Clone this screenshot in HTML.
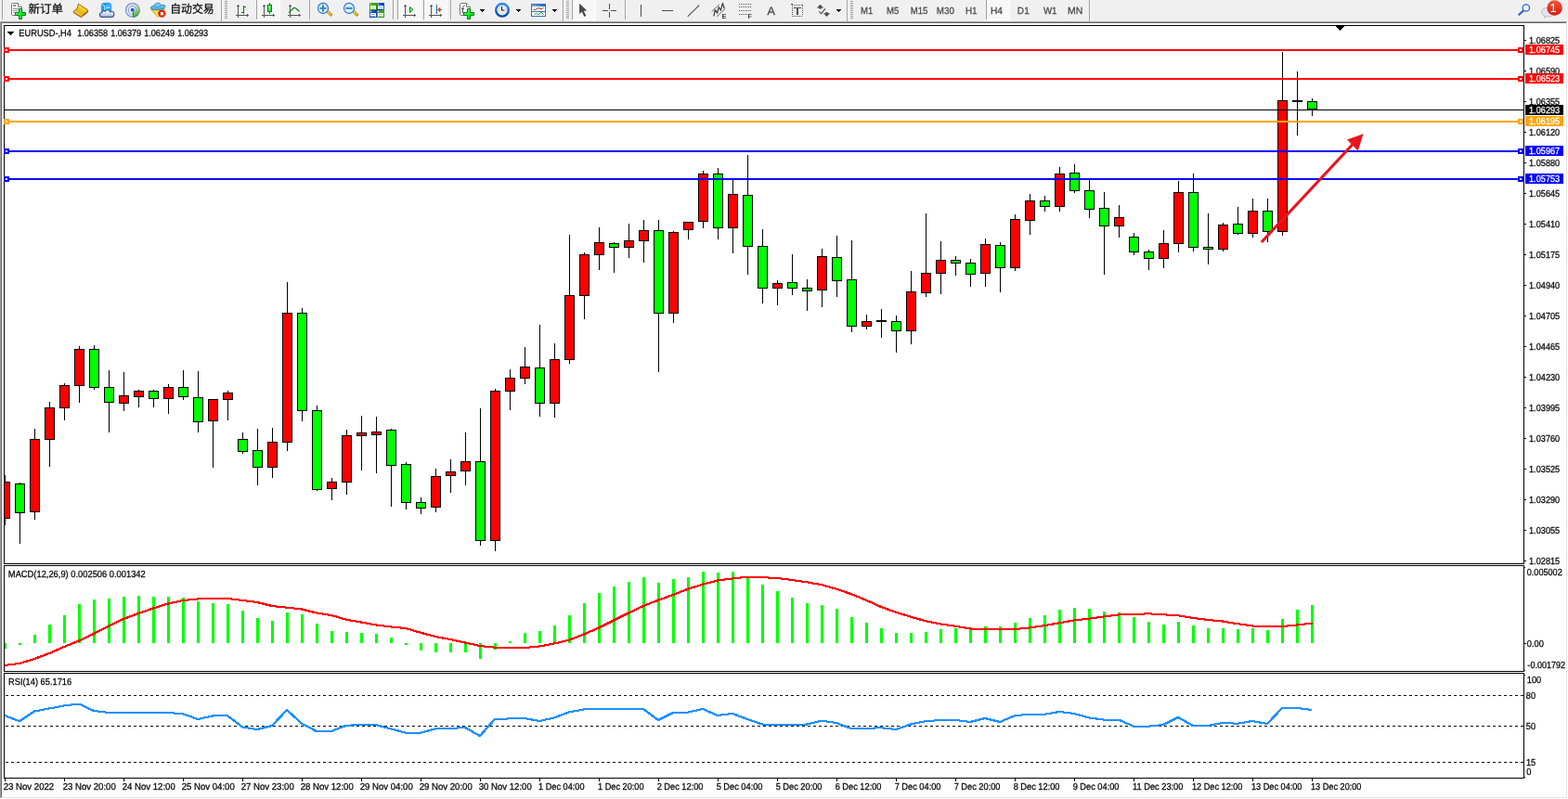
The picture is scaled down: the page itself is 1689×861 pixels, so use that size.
<!DOCTYPE html>
<html lang="zh"><head><meta charset="utf-8"><title>EURUSD-,H4</title>
<style>
html,body{margin:0;padding:0;background:#fff;width:1689px;height:861px;overflow:hidden}
svg{display:block;text-rendering:geometricPrecision;font-family:"Liberation Sans", "Noto Sans CJK SC", sans-serif}
text{white-space:pre}
</style></head><body>
<svg width="1689" height="861" viewBox="0 0 1689 861">
<rect x="0" y="0" width="1689" height="23" fill="#f0f0f0"/>
<rect x="0" y="23" width="1689" height="838" fill="#fff"/>
<rect x="0" y="23" width="1688" height="1" fill="#a0a0a0"/>
<rect x="0" y="23" width="1" height="837" fill="#a0a0a0"/>
<rect x="1" y="24" width="1686" height="1" fill="#696969"/>
<rect x="1" y="24" width="1" height="835" fill="#696969"/>
<rect x="1" y="859" width="1687" height="1" fill="#e3e3e3"/>
<rect x="1687" y="24" width="1" height="836" fill="#e3e3e3"/>
<defs><clipPath id="plot"><rect x="5" y="28" width="1636" height="810"/></clipPath></defs>
<g shape-rendering="crispEdges">
<g id="candles">
<rect x="5" y="512" width="1" height="54" fill="#000"/>
<rect x="5" y="519" width="6" height="40" fill="#000"/>
<rect x="5" y="520" width="5" height="38" fill="#ff0000"/>
<rect x="21" y="520" width="1" height="66" fill="#000"/>
<rect x="16" y="521" width="11" height="32" fill="#000"/>
<rect x="17" y="522" width="9" height="30" fill="#00ff00"/>
<rect x="37" y="462" width="1" height="98" fill="#000"/>
<rect x="32" y="473" width="11" height="79" fill="#000"/>
<rect x="33" y="474" width="9" height="77" fill="#ff0000"/>
<rect x="53" y="433" width="1" height="70" fill="#000"/>
<rect x="48" y="439" width="11" height="35" fill="#000"/>
<rect x="49" y="440" width="9" height="33" fill="#ff0000"/>
<rect x="69" y="413" width="1" height="40" fill="#000"/>
<rect x="64" y="415" width="11" height="25" fill="#000"/>
<rect x="65" y="416" width="9" height="23" fill="#ff0000"/>
<rect x="85" y="373" width="1" height="61" fill="#000"/>
<rect x="80" y="376" width="11" height="40" fill="#000"/>
<rect x="81" y="377" width="9" height="38" fill="#ff0000"/>
<rect x="101" y="372" width="1" height="48" fill="#000"/>
<rect x="96" y="376" width="11" height="42" fill="#000"/>
<rect x="97" y="377" width="9" height="40" fill="#00ff00"/>
<rect x="117" y="399" width="1" height="67" fill="#000"/>
<rect x="112" y="417" width="11" height="17" fill="#000"/>
<rect x="113" y="418" width="9" height="15" fill="#00ff00"/>
<rect x="133" y="401" width="1" height="42" fill="#000"/>
<rect x="128" y="426" width="11" height="9" fill="#000"/>
<rect x="129" y="427" width="9" height="7" fill="#ff0000"/>
<rect x="149" y="420" width="1" height="19" fill="#000"/>
<rect x="144" y="421" width="11" height="7" fill="#000"/>
<rect x="145" y="422" width="9" height="5" fill="#ff0000"/>
<rect x="165" y="420" width="1" height="19" fill="#000"/>
<rect x="160" y="421" width="11" height="9" fill="#000"/>
<rect x="161" y="422" width="9" height="7" fill="#00ff00"/>
<rect x="181" y="414" width="1" height="32" fill="#000"/>
<rect x="176" y="417" width="11" height="13" fill="#000"/>
<rect x="177" y="418" width="9" height="11" fill="#ff0000"/>
<rect x="197" y="399" width="1" height="32" fill="#000"/>
<rect x="192" y="417" width="11" height="11" fill="#000"/>
<rect x="193" y="418" width="9" height="9" fill="#00ff00"/>
<rect x="213" y="400" width="1" height="66" fill="#000"/>
<rect x="208" y="428" width="11" height="27" fill="#000"/>
<rect x="209" y="429" width="9" height="25" fill="#00ff00"/>
<rect x="229" y="430" width="1" height="74" fill="#000"/>
<rect x="224" y="430" width="11" height="24" fill="#000"/>
<rect x="225" y="431" width="9" height="22" fill="#ff0000"/>
<rect x="245" y="421" width="1" height="32" fill="#000"/>
<rect x="240" y="423" width="11" height="8" fill="#000"/>
<rect x="241" y="424" width="9" height="6" fill="#ff0000"/>
<rect x="261" y="466" width="1" height="23" fill="#000"/>
<rect x="256" y="473" width="11" height="14" fill="#000"/>
<rect x="257" y="474" width="9" height="12" fill="#00ff00"/>
<rect x="277" y="462" width="1" height="61" fill="#000"/>
<rect x="272" y="485" width="11" height="19" fill="#000"/>
<rect x="273" y="486" width="9" height="17" fill="#00ff00"/>
<rect x="293" y="461" width="1" height="54" fill="#000"/>
<rect x="288" y="476" width="11" height="28" fill="#000"/>
<rect x="289" y="477" width="9" height="26" fill="#ff0000"/>
<rect x="309" y="304" width="1" height="182" fill="#000"/>
<rect x="304" y="337" width="11" height="140" fill="#000"/>
<rect x="305" y="338" width="9" height="138" fill="#ff0000"/>
<rect x="325" y="332" width="1" height="122" fill="#000"/>
<rect x="320" y="337" width="11" height="106" fill="#000"/>
<rect x="321" y="338" width="9" height="104" fill="#00ff00"/>
<rect x="341" y="437" width="1" height="92" fill="#000"/>
<rect x="336" y="442" width="11" height="86" fill="#000"/>
<rect x="337" y="443" width="9" height="84" fill="#00ff00"/>
<rect x="357" y="515" width="1" height="24" fill="#000"/>
<rect x="352" y="519" width="11" height="8" fill="#000"/>
<rect x="353" y="520" width="9" height="6" fill="#ff0000"/>
<rect x="373" y="463" width="1" height="70" fill="#000"/>
<rect x="368" y="469" width="11" height="51" fill="#000"/>
<rect x="369" y="470" width="9" height="49" fill="#ff0000"/>
<rect x="389" y="448" width="1" height="59" fill="#000"/>
<rect x="384" y="466" width="11" height="4" fill="#000"/>
<rect x="385" y="467" width="9" height="2" fill="#ff0000"/>
<rect x="405" y="449" width="1" height="61" fill="#000"/>
<rect x="400" y="465" width="11" height="4" fill="#000"/>
<rect x="401" y="466" width="9" height="2" fill="#ff0000"/>
<rect x="421" y="462" width="1" height="84" fill="#000"/>
<rect x="416" y="463" width="11" height="39" fill="#000"/>
<rect x="417" y="464" width="9" height="37" fill="#00ff00"/>
<rect x="437" y="498" width="1" height="51" fill="#000"/>
<rect x="432" y="500" width="11" height="42" fill="#000"/>
<rect x="433" y="501" width="9" height="40" fill="#00ff00"/>
<rect x="453" y="536" width="1" height="18" fill="#000"/>
<rect x="448" y="541" width="11" height="7" fill="#000"/>
<rect x="449" y="542" width="9" height="5" fill="#00ff00"/>
<rect x="469" y="505" width="1" height="47" fill="#000"/>
<rect x="464" y="513" width="11" height="34" fill="#000"/>
<rect x="465" y="514" width="9" height="32" fill="#ff0000"/>
<rect x="485" y="495" width="1" height="36" fill="#000"/>
<rect x="480" y="508" width="11" height="5" fill="#000"/>
<rect x="481" y="509" width="9" height="3" fill="#ff0000"/>
<rect x="501" y="466" width="1" height="57" fill="#000"/>
<rect x="496" y="497" width="11" height="11" fill="#000"/>
<rect x="497" y="498" width="9" height="9" fill="#ff0000"/>
<rect x="517" y="440" width="1" height="148" fill="#000"/>
<rect x="512" y="497" width="11" height="86" fill="#000"/>
<rect x="513" y="498" width="9" height="84" fill="#00ff00"/>
<rect x="533" y="419" width="1" height="175" fill="#000"/>
<rect x="528" y="421" width="11" height="162" fill="#000"/>
<rect x="529" y="422" width="9" height="160" fill="#ff0000"/>
<rect x="549" y="398" width="1" height="44" fill="#000"/>
<rect x="544" y="407" width="11" height="15" fill="#000"/>
<rect x="545" y="408" width="9" height="13" fill="#ff0000"/>
<rect x="565" y="374" width="1" height="40" fill="#000"/>
<rect x="560" y="395" width="11" height="13" fill="#000"/>
<rect x="561" y="396" width="9" height="11" fill="#ff0000"/>
<rect x="581" y="350" width="1" height="99" fill="#000"/>
<rect x="576" y="396" width="11" height="39" fill="#000"/>
<rect x="577" y="397" width="9" height="37" fill="#00ff00"/>
<rect x="597" y="370" width="1" height="80" fill="#000"/>
<rect x="592" y="387" width="11" height="48" fill="#000"/>
<rect x="593" y="388" width="9" height="46" fill="#ff0000"/>
<rect x="613" y="253" width="1" height="139" fill="#000"/>
<rect x="608" y="318" width="11" height="70" fill="#000"/>
<rect x="609" y="319" width="9" height="68" fill="#ff0000"/>
<rect x="629" y="272" width="1" height="72" fill="#000"/>
<rect x="624" y="274" width="11" height="45" fill="#000"/>
<rect x="625" y="275" width="9" height="43" fill="#ff0000"/>
<rect x="645" y="245" width="1" height="46" fill="#000"/>
<rect x="640" y="261" width="11" height="14" fill="#000"/>
<rect x="641" y="262" width="9" height="12" fill="#ff0000"/>
<rect x="661" y="261" width="1" height="33" fill="#000"/>
<rect x="656" y="262" width="11" height="5" fill="#000"/>
<rect x="657" y="263" width="9" height="3" fill="#00ff00"/>
<rect x="677" y="241" width="1" height="37" fill="#000"/>
<rect x="672" y="259" width="11" height="8" fill="#000"/>
<rect x="673" y="260" width="9" height="6" fill="#ff0000"/>
<rect x="693" y="237" width="1" height="46" fill="#000"/>
<rect x="688" y="248" width="11" height="12" fill="#000"/>
<rect x="689" y="249" width="9" height="10" fill="#ff0000"/>
<rect x="709" y="237" width="1" height="164" fill="#000"/>
<rect x="704" y="248" width="11" height="90" fill="#000"/>
<rect x="705" y="249" width="9" height="88" fill="#00ff00"/>
<rect x="725" y="249" width="1" height="99" fill="#000"/>
<rect x="720" y="250" width="11" height="88" fill="#000"/>
<rect x="721" y="251" width="9" height="86" fill="#ff0000"/>
<rect x="741" y="239" width="1" height="19" fill="#000"/>
<rect x="736" y="239" width="11" height="9" fill="#000"/>
<rect x="737" y="240" width="9" height="7" fill="#ff0000"/>
<rect x="757" y="184" width="1" height="62" fill="#000"/>
<rect x="752" y="187" width="11" height="52" fill="#000"/>
<rect x="753" y="188" width="9" height="50" fill="#ff0000"/>
<rect x="773" y="181" width="1" height="77" fill="#000"/>
<rect x="768" y="187" width="11" height="59" fill="#000"/>
<rect x="769" y="188" width="9" height="57" fill="#00ff00"/>
<rect x="789" y="194" width="1" height="79" fill="#000"/>
<rect x="784" y="209" width="11" height="37" fill="#000"/>
<rect x="785" y="210" width="9" height="35" fill="#ff0000"/>
<rect x="805" y="167" width="1" height="129" fill="#000"/>
<rect x="800" y="210" width="11" height="56" fill="#000"/>
<rect x="801" y="211" width="9" height="54" fill="#00ff00"/>
<rect x="821" y="247" width="1" height="80" fill="#000"/>
<rect x="816" y="265" width="11" height="46" fill="#000"/>
<rect x="817" y="266" width="9" height="44" fill="#00ff00"/>
<rect x="837" y="302" width="1" height="27" fill="#000"/>
<rect x="832" y="305" width="11" height="6" fill="#000"/>
<rect x="833" y="306" width="9" height="4" fill="#ff0000"/>
<rect x="853" y="274" width="1" height="44" fill="#000"/>
<rect x="848" y="304" width="11" height="7" fill="#000"/>
<rect x="849" y="305" width="9" height="5" fill="#00ff00"/>
<rect x="869" y="301" width="1" height="34" fill="#000"/>
<rect x="864" y="310" width="11" height="4" fill="#000"/>
<rect x="865" y="311" width="9" height="2" fill="#00ff00"/>
<rect x="885" y="268" width="1" height="63" fill="#000"/>
<rect x="880" y="276" width="11" height="37" fill="#000"/>
<rect x="881" y="277" width="9" height="35" fill="#ff0000"/>
<rect x="901" y="254" width="1" height="66" fill="#000"/>
<rect x="896" y="277" width="11" height="26" fill="#000"/>
<rect x="897" y="278" width="9" height="24" fill="#00ff00"/>
<rect x="917" y="259" width="1" height="99" fill="#000"/>
<rect x="912" y="301" width="11" height="51" fill="#000"/>
<rect x="913" y="302" width="9" height="49" fill="#00ff00"/>
<rect x="933" y="339" width="1" height="16" fill="#000"/>
<rect x="928" y="346" width="11" height="6" fill="#000"/>
<rect x="929" y="347" width="9" height="4" fill="#ff0000"/>
<rect x="949" y="333" width="1" height="31" fill="#000"/>
<rect x="944" y="345" width="11" height="2" fill="#000"/>
<rect x="965" y="340" width="1" height="40" fill="#000"/>
<rect x="960" y="346" width="11" height="11" fill="#000"/>
<rect x="961" y="347" width="9" height="9" fill="#00ff00"/>
<rect x="981" y="292" width="1" height="79" fill="#000"/>
<rect x="976" y="314" width="11" height="43" fill="#000"/>
<rect x="977" y="315" width="9" height="41" fill="#ff0000"/>
<rect x="997" y="230" width="1" height="90" fill="#000"/>
<rect x="992" y="294" width="11" height="22" fill="#000"/>
<rect x="993" y="295" width="9" height="20" fill="#ff0000"/>
<rect x="1013" y="260" width="1" height="57" fill="#000"/>
<rect x="1008" y="280" width="11" height="15" fill="#000"/>
<rect x="1009" y="281" width="9" height="13" fill="#ff0000"/>
<rect x="1029" y="276" width="1" height="21" fill="#000"/>
<rect x="1024" y="280" width="11" height="4" fill="#000"/>
<rect x="1025" y="281" width="9" height="2" fill="#00ff00"/>
<rect x="1045" y="279" width="1" height="30" fill="#000"/>
<rect x="1040" y="283" width="11" height="13" fill="#000"/>
<rect x="1041" y="284" width="9" height="11" fill="#00ff00"/>
<rect x="1061" y="257" width="1" height="52" fill="#000"/>
<rect x="1056" y="263" width="11" height="32" fill="#000"/>
<rect x="1057" y="264" width="9" height="30" fill="#ff0000"/>
<rect x="1077" y="261" width="1" height="54" fill="#000"/>
<rect x="1072" y="264" width="11" height="25" fill="#000"/>
<rect x="1073" y="265" width="9" height="23" fill="#00ff00"/>
<rect x="1093" y="231" width="1" height="61" fill="#000"/>
<rect x="1088" y="236" width="11" height="53" fill="#000"/>
<rect x="1089" y="237" width="9" height="51" fill="#ff0000"/>
<rect x="1109" y="209" width="1" height="44" fill="#000"/>
<rect x="1104" y="216" width="11" height="22" fill="#000"/>
<rect x="1105" y="217" width="9" height="20" fill="#ff0000"/>
<rect x="1125" y="211" width="1" height="17" fill="#000"/>
<rect x="1120" y="216" width="11" height="7" fill="#000"/>
<rect x="1121" y="217" width="9" height="5" fill="#00ff00"/>
<rect x="1141" y="180" width="1" height="48" fill="#000"/>
<rect x="1136" y="187" width="11" height="36" fill="#000"/>
<rect x="1137" y="188" width="9" height="34" fill="#ff0000"/>
<rect x="1157" y="177" width="1" height="31" fill="#000"/>
<rect x="1152" y="186" width="11" height="20" fill="#000"/>
<rect x="1153" y="187" width="9" height="18" fill="#00ff00"/>
<rect x="1173" y="194" width="1" height="41" fill="#000"/>
<rect x="1168" y="205" width="11" height="21" fill="#000"/>
<rect x="1169" y="206" width="9" height="19" fill="#00ff00"/>
<rect x="1189" y="207" width="1" height="89" fill="#000"/>
<rect x="1184" y="224" width="11" height="20" fill="#000"/>
<rect x="1185" y="225" width="9" height="18" fill="#00ff00"/>
<rect x="1205" y="221" width="1" height="35" fill="#000"/>
<rect x="1200" y="234" width="11" height="10" fill="#000"/>
<rect x="1201" y="235" width="9" height="8" fill="#ff0000"/>
<rect x="1221" y="251" width="1" height="24" fill="#000"/>
<rect x="1216" y="255" width="11" height="17" fill="#000"/>
<rect x="1217" y="256" width="9" height="15" fill="#00ff00"/>
<rect x="1237" y="269" width="1" height="22" fill="#000"/>
<rect x="1232" y="271" width="11" height="8" fill="#000"/>
<rect x="1233" y="272" width="9" height="6" fill="#00ff00"/>
<rect x="1253" y="248" width="1" height="41" fill="#000"/>
<rect x="1248" y="262" width="11" height="17" fill="#000"/>
<rect x="1249" y="263" width="9" height="15" fill="#ff0000"/>
<rect x="1269" y="195" width="1" height="77" fill="#000"/>
<rect x="1264" y="207" width="11" height="56" fill="#000"/>
<rect x="1265" y="208" width="9" height="54" fill="#ff0000"/>
<rect x="1285" y="187" width="1" height="84" fill="#000"/>
<rect x="1280" y="207" width="11" height="60" fill="#000"/>
<rect x="1281" y="208" width="9" height="58" fill="#00ff00"/>
<rect x="1301" y="230" width="1" height="55" fill="#000"/>
<rect x="1296" y="266" width="11" height="3" fill="#000"/>
<rect x="1297" y="267" width="9" height="1" fill="#00ff00"/>
<rect x="1317" y="240" width="1" height="31" fill="#000"/>
<rect x="1312" y="242" width="11" height="27" fill="#000"/>
<rect x="1313" y="243" width="9" height="25" fill="#ff0000"/>
<rect x="1333" y="223" width="1" height="30" fill="#000"/>
<rect x="1328" y="241" width="11" height="11" fill="#000"/>
<rect x="1329" y="242" width="9" height="9" fill="#00ff00"/>
<rect x="1349" y="214" width="1" height="42" fill="#000"/>
<rect x="1344" y="227" width="11" height="25" fill="#000"/>
<rect x="1345" y="228" width="9" height="23" fill="#ff0000"/>
<rect x="1365" y="214" width="1" height="47" fill="#000"/>
<rect x="1360" y="227" width="11" height="23" fill="#000"/>
<rect x="1361" y="228" width="9" height="21" fill="#00ff00"/>
<rect x="1381" y="56" width="1" height="198" fill="#000"/>
<rect x="1376" y="108" width="11" height="142" fill="#000"/>
<rect x="1377" y="109" width="9" height="140" fill="#ff0000"/>
<rect x="1397" y="77" width="1" height="69" fill="#000"/>
<rect x="1392" y="108" width="11" height="2" fill="#000"/>
<rect x="1413" y="106" width="1" height="19" fill="#000"/>
<rect x="1408" y="109" width="11" height="9" fill="#000"/>
<rect x="1409" y="110" width="9" height="7" fill="#00ff00"/>
</g>
<rect x="5" y="118" width="1636" height="1" fill="#000"/>
<rect x="4" y="27" width="1638" height="1" fill="#000"/>
<rect x="4" y="27" width="1" height="812" fill="#000"/>
<rect x="1641" y="27" width="1" height="812" fill="#000"/>
<rect x="4" y="607" width="1638" height="1" fill="#000"/>
<rect x="4" y="609" width="1638" height="1" fill="#000"/>
<rect x="4" y="723" width="1638" height="1" fill="#000"/>
<rect x="4" y="725" width="1638" height="1" fill="#000"/>
<rect x="4" y="838" width="1638" height="1" fill="#000"/>
<rect x="4" y="608" width="1" height="1" fill="#fff"/>
<rect x="4" y="724" width="1" height="1" fill="#fff"/>
<rect x="1641" y="608" width="1" height="1" fill="#fff"/>
<rect x="1641" y="724" width="1" height="1" fill="#fff"/>
<rect x="5" y="53" width="1636" height="2" fill="#ff0000"/>
<rect x="4" y="51" width="6" height="6" fill="#ff0000"/>
<rect x="6" y="53" width="2" height="2" fill="#fff"/>
<rect x="1635" y="51" width="6" height="6" fill="#ff0000"/>
<rect x="1637" y="53" width="2" height="2" fill="#fff"/>
<rect x="5" y="84" width="1636" height="2" fill="#ff0000"/>
<rect x="4" y="82" width="6" height="6" fill="#ff0000"/>
<rect x="6" y="84" width="2" height="2" fill="#fff"/>
<rect x="1635" y="82" width="6" height="6" fill="#ff0000"/>
<rect x="1637" y="84" width="2" height="2" fill="#fff"/>
<rect x="5" y="130" width="1636" height="2" fill="#ffa500"/>
<rect x="4" y="128" width="6" height="6" fill="#ffa500"/>
<rect x="6" y="130" width="2" height="2" fill="#fff"/>
<rect x="1635" y="128" width="6" height="6" fill="#ffa500"/>
<rect x="1637" y="130" width="2" height="2" fill="#fff"/>
<rect x="5" y="162" width="1636" height="2" fill="#0000ff"/>
<rect x="4" y="160" width="6" height="6" fill="#0000ff"/>
<rect x="6" y="162" width="2" height="2" fill="#fff"/>
<rect x="1635" y="160" width="6" height="6" fill="#0000ff"/>
<rect x="1637" y="162" width="2" height="2" fill="#fff"/>
<rect x="5" y="192" width="1636" height="2" fill="#0000ff"/>
<rect x="4" y="190" width="6" height="6" fill="#0000ff"/>
<rect x="6" y="192" width="2" height="2" fill="#fff"/>
<rect x="1635" y="190" width="6" height="6" fill="#0000ff"/>
<rect x="1637" y="192" width="2" height="2" fill="#fff"/>
<rect x="1438" y="27" width="11" height="1" fill="#000"/>
<rect x="1439" y="28" width="9" height="1" fill="#000"/>
<rect x="1440" y="29" width="7" height="1" fill="#000"/>
<rect x="1441" y="30" width="5" height="1" fill="#000"/>
<rect x="1442" y="31" width="3" height="1" fill="#000"/>
<rect x="1443" y="32" width="1" height="1" fill="#000"/>
<rect x="8" y="34" width="7" height="1" fill="#000"/>
<rect x="9" y="35" width="5" height="1" fill="#000"/>
<rect x="10" y="36" width="3" height="1" fill="#000"/>
<rect x="11" y="37" width="1" height="1" fill="#000"/>
<rect x="1642" y="43" width="2" height="1" fill="#000"/>
<rect x="1642" y="76" width="2" height="1" fill="#000"/>
<rect x="1642" y="109" width="2" height="1" fill="#000"/>
<rect x="1642" y="142" width="2" height="1" fill="#000"/>
<rect x="1642" y="175" width="2" height="1" fill="#000"/>
<rect x="1642" y="208" width="2" height="1" fill="#000"/>
<rect x="1642" y="241" width="2" height="1" fill="#000"/>
<rect x="1642" y="274" width="2" height="1" fill="#000"/>
<rect x="1642" y="307" width="2" height="1" fill="#000"/>
<rect x="1642" y="340" width="2" height="1" fill="#000"/>
<rect x="1642" y="373" width="2" height="1" fill="#000"/>
<rect x="1642" y="406" width="2" height="1" fill="#000"/>
<rect x="1642" y="439" width="2" height="1" fill="#000"/>
<rect x="1642" y="472" width="2" height="1" fill="#000"/>
<rect x="1642" y="505" width="2" height="1" fill="#000"/>
<rect x="1642" y="538" width="2" height="1" fill="#000"/>
<rect x="1642" y="571" width="2" height="1" fill="#000"/>
<rect x="1642" y="604" width="2" height="1" fill="#000"/>
<rect x="1642" y="693" width="2" height="1" fill="#000"/>
<rect x="1642" y="611" width="1" height="1" fill="#000"/>
<rect x="1642" y="722" width="1" height="1" fill="#000"/>
<rect x="1642" y="727" width="1" height="1" fill="#000"/>
<rect x="1642" y="837" width="1" height="1" fill="#000"/>
<rect x="5" y="839" width="1" height="3" fill="#000"/>
<rect x="69" y="839" width="1" height="3" fill="#000"/>
<rect x="133" y="839" width="1" height="3" fill="#000"/>
<rect x="197" y="839" width="1" height="3" fill="#000"/>
<rect x="261" y="839" width="1" height="3" fill="#000"/>
<rect x="325" y="839" width="1" height="3" fill="#000"/>
<rect x="389" y="839" width="1" height="3" fill="#000"/>
<rect x="453" y="839" width="1" height="3" fill="#000"/>
<rect x="517" y="839" width="1" height="3" fill="#000"/>
<rect x="581" y="839" width="1" height="3" fill="#000"/>
<rect x="645" y="839" width="1" height="3" fill="#000"/>
<rect x="709" y="839" width="1" height="3" fill="#000"/>
<rect x="773" y="839" width="1" height="3" fill="#000"/>
<rect x="837" y="839" width="1" height="3" fill="#000"/>
<rect x="901" y="839" width="1" height="3" fill="#000"/>
<rect x="965" y="839" width="1" height="3" fill="#000"/>
<rect x="1029" y="839" width="1" height="3" fill="#000"/>
<rect x="1093" y="839" width="1" height="3" fill="#000"/>
<rect x="1157" y="839" width="1" height="3" fill="#000"/>
<rect x="1221" y="839" width="1" height="3" fill="#000"/>
<rect x="1285" y="839" width="1" height="3" fill="#000"/>
<rect x="1349" y="839" width="1" height="3" fill="#000"/>
<rect x="1413" y="839" width="1" height="3" fill="#000"/>
<rect x="5" y="693" width="2" height="6" fill="#00ff00"/>
<rect x="20" y="693" width="3" height="2" fill="#00ff00"/>
<rect x="36" y="684" width="3" height="9" fill="#00ff00"/>
<rect x="52" y="673" width="3" height="20" fill="#00ff00"/>
<rect x="68" y="663" width="3" height="30" fill="#00ff00"/>
<rect x="84" y="651" width="3" height="42" fill="#00ff00"/>
<rect x="100" y="646" width="3" height="47" fill="#00ff00"/>
<rect x="116" y="645" width="3" height="48" fill="#00ff00"/>
<rect x="132" y="643" width="3" height="50" fill="#00ff00"/>
<rect x="148" y="642" width="3" height="51" fill="#00ff00"/>
<rect x="164" y="643" width="3" height="50" fill="#00ff00"/>
<rect x="180" y="643" width="3" height="50" fill="#00ff00"/>
<rect x="196" y="644" width="3" height="49" fill="#00ff00"/>
<rect x="212" y="648" width="3" height="45" fill="#00ff00"/>
<rect x="228" y="650" width="3" height="43" fill="#00ff00"/>
<rect x="244" y="651" width="3" height="42" fill="#00ff00"/>
<rect x="260" y="658" width="3" height="35" fill="#00ff00"/>
<rect x="276" y="666" width="3" height="27" fill="#00ff00"/>
<rect x="292" y="669" width="3" height="24" fill="#00ff00"/>
<rect x="308" y="660" width="3" height="33" fill="#00ff00"/>
<rect x="324" y="662" width="3" height="31" fill="#00ff00"/>
<rect x="340" y="672" width="3" height="21" fill="#00ff00"/>
<rect x="356" y="680" width="3" height="13" fill="#00ff00"/>
<rect x="372" y="681" width="3" height="12" fill="#00ff00"/>
<rect x="388" y="682" width="3" height="11" fill="#00ff00"/>
<rect x="404" y="683" width="3" height="10" fill="#00ff00"/>
<rect x="420" y="687" width="3" height="6" fill="#00ff00"/>
<rect x="436" y="693" width="3" height="2" fill="#00ff00"/>
<rect x="452" y="693" width="3" height="8" fill="#00ff00"/>
<rect x="468" y="693" width="3" height="10" fill="#00ff00"/>
<rect x="484" y="693" width="3" height="10" fill="#00ff00"/>
<rect x="500" y="693" width="3" height="10" fill="#00ff00"/>
<rect x="516" y="693" width="3" height="17" fill="#00ff00"/>
<rect x="532" y="693" width="3" height="7" fill="#00ff00"/>
<rect x="548" y="691" width="3" height="2" fill="#00ff00"/>
<rect x="564" y="682" width="3" height="11" fill="#00ff00"/>
<rect x="580" y="680" width="3" height="13" fill="#00ff00"/>
<rect x="596" y="674" width="3" height="19" fill="#00ff00"/>
<rect x="612" y="663" width="3" height="30" fill="#00ff00"/>
<rect x="628" y="650" width="3" height="43" fill="#00ff00"/>
<rect x="644" y="639" width="3" height="54" fill="#00ff00"/>
<rect x="660" y="632" width="3" height="61" fill="#00ff00"/>
<rect x="676" y="627" width="3" height="66" fill="#00ff00"/>
<rect x="692" y="622" width="3" height="71" fill="#00ff00"/>
<rect x="708" y="628" width="3" height="65" fill="#00ff00"/>
<rect x="724" y="624" width="3" height="69" fill="#00ff00"/>
<rect x="740" y="622" width="3" height="71" fill="#00ff00"/>
<rect x="756" y="616" width="3" height="77" fill="#00ff00"/>
<rect x="772" y="617" width="3" height="76" fill="#00ff00"/>
<rect x="788" y="616" width="3" height="77" fill="#00ff00"/>
<rect x="804" y="623" width="3" height="70" fill="#00ff00"/>
<rect x="820" y="630" width="3" height="63" fill="#00ff00"/>
<rect x="836" y="637" width="3" height="56" fill="#00ff00"/>
<rect x="852" y="644" width="3" height="49" fill="#00ff00"/>
<rect x="868" y="650" width="3" height="43" fill="#00ff00"/>
<rect x="884" y="652" width="3" height="41" fill="#00ff00"/>
<rect x="900" y="656" width="3" height="37" fill="#00ff00"/>
<rect x="916" y="665" width="3" height="28" fill="#00ff00"/>
<rect x="932" y="671" width="3" height="22" fill="#00ff00"/>
<rect x="948" y="677" width="3" height="16" fill="#00ff00"/>
<rect x="964" y="682" width="3" height="11" fill="#00ff00"/>
<rect x="980" y="682" width="3" height="11" fill="#00ff00"/>
<rect x="996" y="681" width="3" height="12" fill="#00ff00"/>
<rect x="1012" y="678" width="3" height="15" fill="#00ff00"/>
<rect x="1028" y="677" width="3" height="16" fill="#00ff00"/>
<rect x="1044" y="676" width="3" height="17" fill="#00ff00"/>
<rect x="1060" y="675" width="3" height="18" fill="#00ff00"/>
<rect x="1076" y="675" width="3" height="18" fill="#00ff00"/>
<rect x="1092" y="671" width="3" height="22" fill="#00ff00"/>
<rect x="1108" y="666" width="3" height="27" fill="#00ff00"/>
<rect x="1124" y="663" width="3" height="30" fill="#00ff00"/>
<rect x="1140" y="657" width="3" height="36" fill="#00ff00"/>
<rect x="1156" y="655" width="3" height="38" fill="#00ff00"/>
<rect x="1172" y="656" width="3" height="37" fill="#00ff00"/>
<rect x="1188" y="659" width="3" height="34" fill="#00ff00"/>
<rect x="1204" y="660" width="3" height="33" fill="#00ff00"/>
<rect x="1220" y="665" width="3" height="28" fill="#00ff00"/>
<rect x="1236" y="670" width="3" height="23" fill="#00ff00"/>
<rect x="1252" y="673" width="3" height="20" fill="#00ff00"/>
<rect x="1268" y="670" width="3" height="23" fill="#00ff00"/>
<rect x="1284" y="674" width="3" height="19" fill="#00ff00"/>
<rect x="1300" y="677" width="3" height="16" fill="#00ff00"/>
<rect x="1316" y="677" width="3" height="16" fill="#00ff00"/>
<rect x="1332" y="678" width="3" height="15" fill="#00ff00"/>
<rect x="1348" y="677" width="3" height="16" fill="#00ff00"/>
<rect x="1364" y="679" width="3" height="14" fill="#00ff00"/>
<rect x="1380" y="667" width="3" height="26" fill="#00ff00"/>
<rect x="1396" y="657" width="3" height="36" fill="#00ff00"/>
<rect x="1412" y="652" width="3" height="41" fill="#00ff00"/>
<line x1="6" y1="749.5" x2="1641" y2="749.5" stroke="#000" stroke-width="1" stroke-dasharray="3 3"/>
<line x1="6" y1="782.5" x2="1641" y2="782.5" stroke="#000" stroke-width="1" stroke-dasharray="3 3"/>
<line x1="6" y1="821.5" x2="1641" y2="821.5" stroke="#000" stroke-width="1" stroke-dasharray="3 3"/>
</g>
<g fill="none" stroke="#ff0000" stroke-width="1" shape-rendering="crispEdges" stroke-linejoin="bevel" clip-path="url(#plot)">
<polyline points="5.5,716.5 21.5,714.5 37.5,709.5 53.5,703.5 69.5,696.5 85.5,690 101.5,682.5 117.5,674.2 133.5,666.5 149.5,660.5 165.5,655 181.5,650 197.5,646.5 213.5,645 229.5,644.5 245.5,644.5 261.5,646.5 277.5,648.5 293.5,652.5 309.5,654.2 325.5,656 341.5,660 357.5,662.5 373.5,667.2 389.5,670 405.5,673 421.5,675 437.5,676.5 453.5,681.2 469.5,685.5 485.5,688.5 501.5,692 517.5,695.5 533.5,697.2 549.5,697.5 565.5,697.5 581.5,696 597.5,693 613.5,689.2 629.5,683 645.5,676 661.5,668 677.5,660 693.5,652.5 709.5,646.2 725.5,640.5 741.5,634.2 757.5,629.2 773.5,625 789.5,623 805.5,621.2 821.5,621.7 837.5,622.5 853.5,624.5 869.5,626.7 885.5,629.7 901.5,634.2 917.5,639.7 933.5,646.2 949.5,653.5 965.5,659.2 981.5,664.2 997.5,668.7 1013.5,672 1029.5,674.2 1045.5,677 1061.5,677.5 1077.5,677.5 1093.5,677.5 1109.5,676 1125.5,673.7 1141.5,670.7 1157.5,668 1173.5,666.2 1189.5,664 1205.5,662 1221.5,661.5 1237.5,660.8 1253.5,661.8 1269.5,662.8 1285.5,665.5 1301.5,667.5 1317.5,669 1333.5,671.7 1349.5,674 1365.5,674.5 1381.5,674.5 1397.5,673 1413.5,671.2"/>
<polyline points="5.5,717.5 21.5,715.5 37.5,710.5 53.5,704.5 69.5,697.5 85.5,691 101.5,683.5 117.5,675.2 133.5,667.5 149.5,661.5 165.5,656 181.5,651 197.5,647.5 213.5,646 229.5,645.5 245.5,645.5 261.5,647.5 277.5,649.5 293.5,653.5 309.5,655.2 325.5,657 341.5,661 357.5,663.5 373.5,668.2 389.5,671 405.5,674 421.5,676 437.5,677.5 453.5,682.2 469.5,686.5 485.5,689.5 501.5,693 517.5,696.5 533.5,698.2 549.5,698.5 565.5,698.5 581.5,697 597.5,694 613.5,690.2 629.5,684 645.5,677 661.5,669 677.5,661 693.5,653.5 709.5,647.2 725.5,641.5 741.5,635.2 757.5,630.2 773.5,626 789.5,624 805.5,622.2 821.5,622.7 837.5,623.5 853.5,625.5 869.5,627.7 885.5,630.7 901.5,635.2 917.5,640.7 933.5,647.2 949.5,654.5 965.5,660.2 981.5,665.2 997.5,669.7 1013.5,673 1029.5,675.2 1045.5,678 1061.5,678.5 1077.5,678.5 1093.5,678.5 1109.5,677 1125.5,674.7 1141.5,671.7 1157.5,669 1173.5,667.2 1189.5,665 1205.5,663 1221.5,662.5 1237.5,661.8 1253.5,662.8 1269.5,663.8 1285.5,666.5 1301.5,668.5 1317.5,670 1333.5,672.7 1349.5,675 1365.5,675.5 1381.5,675.5 1397.5,674 1413.5,672.2"/>
<polyline points="4.5,716.5 20.5,714.5 36.5,709.5 52.5,703.5 68.5,696.5 84.5,690 100.5,682.5 116.5,674.2 132.5,666.5 148.5,660.5 164.5,655 180.5,650 196.5,646.5 212.5,645 228.5,644.5 244.5,644.5 260.5,646.5 276.5,648.5 292.5,652.5 308.5,654.2 324.5,656 340.5,660 356.5,662.5 372.5,667.2 388.5,670 404.5,673 420.5,675 436.5,676.5 452.5,681.2 468.5,685.5 484.5,688.5 500.5,692 516.5,695.5 532.5,697.2 548.5,697.5 564.5,697.5 580.5,696 596.5,693 612.5,689.2 628.5,683 644.5,676 660.5,668 676.5,660 692.5,652.5 708.5,646.2 724.5,640.5 740.5,634.2 756.5,629.2 772.5,625 788.5,623 804.5,621.2 820.5,621.7 836.5,622.5 852.5,624.5 868.5,626.7 884.5,629.7 900.5,634.2 916.5,639.7 932.5,646.2 948.5,653.5 964.5,659.2 980.5,664.2 996.5,668.7 1012.5,672 1028.5,674.2 1044.5,677 1060.5,677.5 1076.5,677.5 1092.5,677.5 1108.5,676 1124.5,673.7 1140.5,670.7 1156.5,668 1172.5,666.2 1188.5,664 1204.5,662 1220.5,661.5 1236.5,660.8 1252.5,661.8 1268.5,662.8 1284.5,665.5 1300.5,667.5 1316.5,669 1332.5,671.7 1348.5,674 1364.5,674.5 1380.5,674.5 1396.5,673 1412.5,671.2"/>
<polyline points="4.5,717.5 20.5,715.5 36.5,710.5 52.5,704.5 68.5,697.5 84.5,691 100.5,683.5 116.5,675.2 132.5,667.5 148.5,661.5 164.5,656 180.5,651 196.5,647.5 212.5,646 228.5,645.5 244.5,645.5 260.5,647.5 276.5,649.5 292.5,653.5 308.5,655.2 324.5,657 340.5,661 356.5,663.5 372.5,668.2 388.5,671 404.5,674 420.5,676 436.5,677.5 452.5,682.2 468.5,686.5 484.5,689.5 500.5,693 516.5,696.5 532.5,698.2 548.5,698.5 564.5,698.5 580.5,697 596.5,694 612.5,690.2 628.5,684 644.5,677 660.5,669 676.5,661 692.5,653.5 708.5,647.2 724.5,641.5 740.5,635.2 756.5,630.2 772.5,626 788.5,624 804.5,622.2 820.5,622.7 836.5,623.5 852.5,625.5 868.5,627.7 884.5,630.7 900.5,635.2 916.5,640.7 932.5,647.2 948.5,654.5 964.5,660.2 980.5,665.2 996.5,669.7 1012.5,673 1028.5,675.2 1044.5,678 1060.5,678.5 1076.5,678.5 1092.5,678.5 1108.5,677 1124.5,674.7 1140.5,671.7 1156.5,669 1172.5,667.2 1188.5,665 1204.5,663 1220.5,662.5 1236.5,661.8 1252.5,662.8 1268.5,663.8 1284.5,666.5 1300.5,668.5 1316.5,670 1332.5,672.7 1348.5,675 1364.5,675.5 1380.5,675.5 1396.5,674 1412.5,672.2"/>
</g>
<g fill="none" stroke="#1e90ff" stroke-width="1" shape-rendering="crispEdges" stroke-linejoin="bevel" clip-path="url(#plot)">
<polyline points="5.5,770.5 21.5,776.7 37.5,766 53.5,763 69.5,760 85.5,758 101.5,765.5 117.5,767.5 133.5,767.5 149.5,767 165.5,767.5 181.5,767.5 197.5,768.7 213.5,774.5 229.5,771 245.5,770.7 261.5,782.9 277.5,785.5 293.5,781.5 309.5,764.5 325.5,779.2 341.5,787.5 357.5,787.5 373.5,781.2 389.5,780.7 405.5,780.7 421.5,784.9 437.5,789.1 453.5,789.1 469.5,784.9 485.5,784.5 501.5,783.5 517.5,792.5 533.5,774.5 549.5,773.9 565.5,773.5 581.5,776.5 597.5,772.9 613.5,766.9 629.5,763.9 645.5,763.5 661.5,763.5 677.5,763.5 693.5,763.5 709.5,775.5 725.5,767.5 741.5,767.1 757.5,763.5 773.5,770.5 789.5,768.5 805.5,774.5 821.5,780 837.5,780 853.5,780 869.5,780 885.5,776.2 901.5,778.5 917.5,784.7 933.5,784.5 949.5,783.7 965.5,785.5 981.5,780 997.5,776.7 1013.5,775.5 1029.5,775.5 1045.5,777.5 1061.5,773.5 1077.5,777.5 1093.5,770.7 1109.5,769.2 1125.5,769.2 1141.5,766.5 1157.5,768.5 1173.5,772.9 1189.5,775.1 1205.5,775.1 1221.5,782.1 1237.5,782.2 1253.5,780.5 1269.5,772.5 1285.5,781.5 1301.5,781.5 1317.5,778.5 1333.5,779.2 1349.5,776.5 1365.5,779.5 1381.5,762.5 1397.5,762.5 1413.5,764.5"/>
<polyline points="5.5,771.5 21.5,777.7 37.5,767 53.5,764 69.5,761 85.5,759 101.5,766.5 117.5,768.5 133.5,768.5 149.5,768 165.5,768.5 181.5,768.5 197.5,769.7 213.5,775.5 229.5,772 245.5,771.7 261.5,783.9 277.5,786.5 293.5,782.5 309.5,765.5 325.5,780.2 341.5,788.5 357.5,788.5 373.5,782.2 389.5,781.7 405.5,781.7 421.5,785.9 437.5,790.1 453.5,790.1 469.5,785.9 485.5,785.5 501.5,784.5 517.5,793.5 533.5,775.5 549.5,774.9 565.5,774.5 581.5,777.5 597.5,773.9 613.5,767.9 629.5,764.9 645.5,764.5 661.5,764.5 677.5,764.5 693.5,764.5 709.5,776.5 725.5,768.5 741.5,768.1 757.5,764.5 773.5,771.5 789.5,769.5 805.5,775.5 821.5,781 837.5,781 853.5,781 869.5,781 885.5,777.2 901.5,779.5 917.5,785.7 933.5,785.5 949.5,784.7 965.5,786.5 981.5,781 997.5,777.7 1013.5,776.5 1029.5,776.5 1045.5,778.5 1061.5,774.5 1077.5,778.5 1093.5,771.7 1109.5,770.2 1125.5,770.2 1141.5,767.5 1157.5,769.5 1173.5,773.9 1189.5,776.1 1205.5,776.1 1221.5,783.1 1237.5,783.2 1253.5,781.5 1269.5,773.5 1285.5,782.5 1301.5,782.5 1317.5,779.5 1333.5,780.2 1349.5,777.5 1365.5,780.5 1381.5,763.5 1397.5,763.5 1413.5,765.5"/>
<polyline points="4.5,770.5 20.5,776.7 36.5,766 52.5,763 68.5,760 84.5,758 100.5,765.5 116.5,767.5 132.5,767.5 148.5,767 164.5,767.5 180.5,767.5 196.5,768.7 212.5,774.5 228.5,771 244.5,770.7 260.5,782.9 276.5,785.5 292.5,781.5 308.5,764.5 324.5,779.2 340.5,787.5 356.5,787.5 372.5,781.2 388.5,780.7 404.5,780.7 420.5,784.9 436.5,789.1 452.5,789.1 468.5,784.9 484.5,784.5 500.5,783.5 516.5,792.5 532.5,774.5 548.5,773.9 564.5,773.5 580.5,776.5 596.5,772.9 612.5,766.9 628.5,763.9 644.5,763.5 660.5,763.5 676.5,763.5 692.5,763.5 708.5,775.5 724.5,767.5 740.5,767.1 756.5,763.5 772.5,770.5 788.5,768.5 804.5,774.5 820.5,780 836.5,780 852.5,780 868.5,780 884.5,776.2 900.5,778.5 916.5,784.7 932.5,784.5 948.5,783.7 964.5,785.5 980.5,780 996.5,776.7 1012.5,775.5 1028.5,775.5 1044.5,777.5 1060.5,773.5 1076.5,777.5 1092.5,770.7 1108.5,769.2 1124.5,769.2 1140.5,766.5 1156.5,768.5 1172.5,772.9 1188.5,775.1 1204.5,775.1 1220.5,782.1 1236.5,782.2 1252.5,780.5 1268.5,772.5 1284.5,781.5 1300.5,781.5 1316.5,778.5 1332.5,779.2 1348.5,776.5 1364.5,779.5 1380.5,762.5 1396.5,762.5 1412.5,764.5"/>
<polyline points="4.5,771.5 20.5,777.7 36.5,767 52.5,764 68.5,761 84.5,759 100.5,766.5 116.5,768.5 132.5,768.5 148.5,768 164.5,768.5 180.5,768.5 196.5,769.7 212.5,775.5 228.5,772 244.5,771.7 260.5,783.9 276.5,786.5 292.5,782.5 308.5,765.5 324.5,780.2 340.5,788.5 356.5,788.5 372.5,782.2 388.5,781.7 404.5,781.7 420.5,785.9 436.5,790.1 452.5,790.1 468.5,785.9 484.5,785.5 500.5,784.5 516.5,793.5 532.5,775.5 548.5,774.9 564.5,774.5 580.5,777.5 596.5,773.9 612.5,767.9 628.5,764.9 644.5,764.5 660.5,764.5 676.5,764.5 692.5,764.5 708.5,776.5 724.5,768.5 740.5,768.1 756.5,764.5 772.5,771.5 788.5,769.5 804.5,775.5 820.5,781 836.5,781 852.5,781 868.5,781 884.5,777.2 900.5,779.5 916.5,785.7 932.5,785.5 948.5,784.7 964.5,786.5 980.5,781 996.5,777.7 1012.5,776.5 1028.5,776.5 1044.5,778.5 1060.5,774.5 1076.5,778.5 1092.5,771.7 1108.5,770.2 1124.5,770.2 1140.5,767.5 1156.5,769.5 1172.5,773.9 1188.5,776.1 1204.5,776.1 1220.5,783.1 1236.5,783.2 1252.5,781.5 1268.5,773.5 1284.5,782.5 1300.5,782.5 1316.5,779.5 1332.5,780.2 1348.5,777.5 1364.5,780.5 1380.5,763.5 1396.5,763.5 1412.5,765.5"/>
</g>
<g id="arrow"><line x1="1358.8" y1="261" x2="1458" y2="154.5" stroke="#e8141e" stroke-width="3.1"/><polygon points="1468.6,144.2 1451,150.4 1462.8,162.6" fill="#e8141e"/></g>
<text transform="translate(1647.02 47) scale(0.9007 1)" font-size="10.2" fill="#000" stroke="#000" stroke-width="0.25">1.06825</text>
<text transform="translate(1647.02 80) scale(0.9007 1)" font-size="10.2" fill="#000" stroke="#000" stroke-width="0.25">1.06590</text>
<text transform="translate(1647.02 113) scale(0.9007 1)" font-size="10.2" fill="#000" stroke="#000" stroke-width="0.25">1.06355</text>
<text transform="translate(1647.02 146) scale(0.9007 1)" font-size="10.2" fill="#000" stroke="#000" stroke-width="0.25">1.06120</text>
<text transform="translate(1647.02 179) scale(0.9007 1)" font-size="10.2" fill="#000" stroke="#000" stroke-width="0.25">1.05880</text>
<text transform="translate(1647.02 212) scale(0.9007 1)" font-size="10.2" fill="#000" stroke="#000" stroke-width="0.25">1.05645</text>
<text transform="translate(1647.02 245) scale(0.9007 1)" font-size="10.2" fill="#000" stroke="#000" stroke-width="0.25">1.05410</text>
<text transform="translate(1647.02 278) scale(0.9007 1)" font-size="10.2" fill="#000" stroke="#000" stroke-width="0.25">1.05175</text>
<text transform="translate(1647.02 311) scale(0.9007 1)" font-size="10.2" fill="#000" stroke="#000" stroke-width="0.25">1.04940</text>
<text transform="translate(1647.02 344) scale(0.9007 1)" font-size="10.2" fill="#000" stroke="#000" stroke-width="0.25">1.04705</text>
<text transform="translate(1647.02 377) scale(0.9007 1)" font-size="10.2" fill="#000" stroke="#000" stroke-width="0.25">1.04465</text>
<text transform="translate(1647.02 410) scale(0.9007 1)" font-size="10.2" fill="#000" stroke="#000" stroke-width="0.25">1.04230</text>
<text transform="translate(1647.02 443) scale(0.9007 1)" font-size="10.2" fill="#000" stroke="#000" stroke-width="0.25">1.03995</text>
<text transform="translate(1647.02 476) scale(0.9007 1)" font-size="10.2" fill="#000" stroke="#000" stroke-width="0.25">1.03760</text>
<text transform="translate(1647.02 509) scale(0.9007 1)" font-size="10.2" fill="#000" stroke="#000" stroke-width="0.25">1.03525</text>
<text transform="translate(1647.02 542) scale(0.9007 1)" font-size="10.2" fill="#000" stroke="#000" stroke-width="0.25">1.03290</text>
<text transform="translate(1647.02 575) scale(0.9007 1)" font-size="10.2" fill="#000" stroke="#000" stroke-width="0.25">1.03055</text>
<text transform="translate(1647.02 608) scale(0.9007 1)" font-size="10.2" fill="#000" stroke="#000" stroke-width="0.25">1.02815</text>
<rect x="1643" y="48" width="41" height="11" fill="#ff0000" shape-rendering="crispEdges"/>
<text transform="translate(1647.02 57) scale(0.9007 1)" font-size="10.2" fill="#fff" stroke="#fff" stroke-width="0.25">1.06745</text>
<rect x="1643" y="79" width="41" height="11" fill="#ff0000" shape-rendering="crispEdges"/>
<text transform="translate(1647.02 88) scale(0.9007 1)" font-size="10.2" fill="#fff" stroke="#fff" stroke-width="0.25">1.06523</text>
<rect x="1643" y="113" width="41" height="11" fill="#000000" shape-rendering="crispEdges"/>
<text transform="translate(1647.02 122) scale(0.9007 1)" font-size="10.2" fill="#fff" stroke="#fff" stroke-width="0.25">1.06293</text>
<rect x="1643" y="125" width="41" height="11" fill="#ffa500" shape-rendering="crispEdges"/>
<text transform="translate(1647.02 134) scale(0.9007 1)" font-size="10.2" fill="#fff" stroke="#fff" stroke-width="0.25">1.06195</text>
<rect x="1643" y="157" width="41" height="11" fill="#0000ff" shape-rendering="crispEdges"/>
<text transform="translate(1647.02 166) scale(0.9007 1)" font-size="10.2" fill="#fff" stroke="#fff" stroke-width="0.25">1.05967</text>
<rect x="1643" y="187" width="41" height="11" fill="#0000ff" shape-rendering="crispEdges"/>
<text transform="translate(1647.02 196) scale(0.9007 1)" font-size="10.2" fill="#fff" stroke="#fff" stroke-width="0.25">1.05753</text>
<text transform="translate(1644.78 620) scale(0.8934 1)" font-size="10.2" fill="#000" stroke="#000" stroke-width="0.25">0.005002</text>
<text transform="translate(1644.77 697) scale(0.9143 1)" font-size="10.2" fill="#000" stroke="#000" stroke-width="0.25">0.00</text>
<text transform="translate(1645.36 720) scale(0.8889 1)" font-size="10.2" fill="#000" stroke="#000" stroke-width="0.25">-0.001792</text>
<text transform="translate(1644.82 736) scale(0.9079 1)" font-size="10.2" fill="#000" stroke="#000" stroke-width="0.25">100</text>
<text transform="translate(1643.75 753) scale(0.9048 1)" font-size="10.2" fill="#000" stroke="#000" stroke-width="0.25">80</text>
<text transform="translate(1643.75 786) scale(0.9048 1)" font-size="10.2" fill="#000" stroke="#000" stroke-width="0.25">50</text>
<text transform="translate(1643.92 825) scale(0.9073 1)" font-size="10.2" fill="#000" stroke="#000" stroke-width="0.25">15</text>
<text transform="translate(1644.37 835) scale(0.9200 1)" font-size="10.2" fill="#000" stroke="#000" stroke-width="0.25">0</text>
<text transform="translate(20.32 39) scale(0.9094 1)" font-size="10.2" fill="#000" stroke="#000" stroke-width="0.25">EURUSD-,H4</text>
<text transform="translate(83.13 39) scale(0.8951 1)" font-size="10.2" fill="#000" stroke="#000" stroke-width="0.25">1.06358</text>
<text transform="translate(119.13 39) scale(0.8951 1)" font-size="10.2" fill="#000" stroke="#000" stroke-width="0.25">1.06379</text>
<text transform="translate(155.13 39) scale(0.8951 1)" font-size="10.2" fill="#000" stroke="#000" stroke-width="0.25">1.06249</text>
<text transform="translate(191.13 39) scale(0.8951 1)" font-size="10.2" fill="#000" stroke="#000" stroke-width="0.25">1.06293</text>
<text transform="translate(8.87 622) scale(0.9161 1)" font-size="10.2" fill="#000" stroke="#000" stroke-width="0.25">MACD(12,26,9) 0.002506 0.001342</text>
<text transform="translate(9.02 738) scale(0.9116 1)" font-size="10.2" fill="#000" stroke="#000" stroke-width="0.25">RSI(14) 65.1716</text>
<text transform="translate(3.63 851) scale(0.9445 1)" font-size="10.2" fill="#000" stroke="#000" stroke-width="0.25">23 Nov 2022</text>
<text transform="translate(67.63 851) scale(0.9423 1)" font-size="10.2" fill="#000" stroke="#000" stroke-width="0.25">23 Nov 20:00</text>
<text transform="translate(131.63 851) scale(0.9423 1)" font-size="10.2" fill="#000" stroke="#000" stroke-width="0.25">24 Nov 12:00</text>
<text transform="translate(195.63 851) scale(0.9423 1)" font-size="10.2" fill="#000" stroke="#000" stroke-width="0.25">25 Nov 04:00</text>
<text transform="translate(259.63 851) scale(0.9423 1)" font-size="10.2" fill="#000" stroke="#000" stroke-width="0.25">27 Nov 23:00</text>
<text transform="translate(323.63 851) scale(0.9423 1)" font-size="10.2" fill="#000" stroke="#000" stroke-width="0.25">28 Nov 12:00</text>
<text transform="translate(387.63 851) scale(0.9423 1)" font-size="10.2" fill="#000" stroke="#000" stroke-width="0.25">29 Nov 04:00</text>
<text transform="translate(451.63 851) scale(0.9423 1)" font-size="10.2" fill="#000" stroke="#000" stroke-width="0.25">29 Nov 20:00</text>
<text transform="translate(515.63 851) scale(0.9423 1)" font-size="10.2" fill="#000" stroke="#000" stroke-width="0.25">30 Nov 12:00</text>
<text transform="translate(580.02 851) scale(0.9005 1)" font-size="10.2" fill="#000" stroke="#000" stroke-width="0.25">1 Dec 04:00</text>
<text transform="translate(644.02 851) scale(0.9005 1)" font-size="10.2" fill="#000" stroke="#000" stroke-width="0.25">1 Dec 20:00</text>
<text transform="translate(707.65 851) scale(0.9074 1)" font-size="10.2" fill="#000" stroke="#000" stroke-width="0.25">2 Dec 12:00</text>
<text transform="translate(771.65 851) scale(0.9074 1)" font-size="10.2" fill="#000" stroke="#000" stroke-width="0.25">5 Dec 04:00</text>
<text transform="translate(835.65 851) scale(0.9074 1)" font-size="10.2" fill="#000" stroke="#000" stroke-width="0.25">5 Dec 20:00</text>
<text transform="translate(899.65 851) scale(0.9074 1)" font-size="10.2" fill="#000" stroke="#000" stroke-width="0.25">6 Dec 12:00</text>
<text transform="translate(963.65 851) scale(0.9074 1)" font-size="10.2" fill="#000" stroke="#000" stroke-width="0.25">7 Dec 04:00</text>
<text transform="translate(1027.65 851) scale(0.9074 1)" font-size="10.2" fill="#000" stroke="#000" stroke-width="0.25">7 Dec 20:00</text>
<text transform="translate(1091.65 851) scale(0.9074 1)" font-size="10.2" fill="#000" stroke="#000" stroke-width="0.25">8 Dec 12:00</text>
<text transform="translate(1155.65 851) scale(0.9074 1)" font-size="10.2" fill="#000" stroke="#000" stroke-width="0.25">9 Dec 04:00</text>
<text transform="translate(1220.02 851) scale(0.9089 1)" font-size="10.2" fill="#000" stroke="#000" stroke-width="0.25">11 Dec 23:00</text>
<text transform="translate(1284.03 851) scale(0.8975 1)" font-size="10.2" fill="#000" stroke="#000" stroke-width="0.25">12 Dec 12:00</text>
<text transform="translate(1348.03 851) scale(0.8975 1)" font-size="10.2" fill="#000" stroke="#000" stroke-width="0.25">13 Dec 04:00</text>
<text transform="translate(1412.03 851) scale(0.8975 1)" font-size="10.2" fill="#000" stroke="#000" stroke-width="0.25">13 Dec 20:00</text>
<defs>
<pattern id="chk" width="2" height="2" patternUnits="userSpaceOnUse"><rect width="2" height="2" fill="#f0f0f0"/><rect width="1" height="1" fill="#fff"/><rect x="1" y="1" width="1" height="1" fill="#fff"/></pattern>
<linearGradient id="gplus" x1="0" y1="0" x2="1" y2="1"><stop offset="0" stop-color="#7dff8a"/><stop offset="0.5" stop-color="#10f030"/><stop offset="1" stop-color="#00c818"/></linearGradient>
<linearGradient id="gcandle" x1="0" y1="0" x2="1" y2="1"><stop offset="0" stop-color="#90ff98"/><stop offset="1" stop-color="#18d830"/></linearGradient>
<linearGradient id="gbook" x1="0.7" y1="0" x2="0.3" y2="1"><stop offset="0" stop-color="#fff6a0"/><stop offset="0.4" stop-color="#f2c820"/><stop offset="1" stop-color="#d89c10"/></linearGradient>
<linearGradient id="gcloud" x1="0" y1="0" x2="0" y2="1"><stop offset="0" stop-color="#ffffff"/><stop offset="1" stop-color="#a8b6d2"/></linearGradient>
<linearGradient id="gbox" x1="0" y1="0" x2="1" y2="1"><stop offset="0" stop-color="#0a90f0"/><stop offset="1" stop-color="#20b8ff"/></linearGradient>
<linearGradient id="ghat" x1="0" y1="0" x2="0" y2="1"><stop offset="0" stop-color="#8ad0f8"/><stop offset="1" stop-color="#48a8e0"/></linearGradient>
<linearGradient id="gface" x1="0" y1="0" x2="1" y2="1"><stop offset="0" stop-color="#f0c818"/><stop offset="1" stop-color="#fff890"/></linearGradient>
<radialGradient id="gstop" cx="0.6" cy="0.6" r="0.7"><stop offset="0" stop-color="#ff4010"/><stop offset="1" stop-color="#c01800"/></radialGradient>
<linearGradient id="gbadge" x1="0" y1="0" x2="0" y2="1"><stop offset="0" stop-color="#e8583a"/><stop offset="1" stop-color="#d81c0c"/></linearGradient>
<linearGradient id="gclock" x1="0" y1="0" x2="0" y2="1"><stop offset="0" stop-color="#2a90f0"/><stop offset="1" stop-color="#0448a8"/></linearGradient>
<linearGradient id="ggrn" x1="0" y1="0" x2="1" y2="1"><stop offset="0" stop-color="#48b010"/><stop offset="1" stop-color="#2f8c08"/></linearGradient>
<linearGradient id="gblu" x1="0" y1="0" x2="1" y2="1"><stop offset="0" stop-color="#3878e8"/><stop offset="0.5" stop-color="#0838b0"/><stop offset="1" stop-color="#2868d8"/></linearGradient>
<linearGradient id="ghandle" x1="0" y1="0" x2="1" y2="0"><stop offset="0" stop-color="#f8e040"/><stop offset="1" stop-color="#d8a010"/></linearGradient>
<linearGradient id="gsig" x1="0" y1="0" x2="1" y2="1"><stop offset="0" stop-color="#b8e0b0"/><stop offset="1" stop-color="#209020"/></linearGradient>
<linearGradient id="gtpl" x1="0" y1="0" x2="1" y2="0"><stop offset="0" stop-color="#78b0f0"/><stop offset="1" stop-color="#2868b8"/></linearGradient>
<linearGradient id="gsig2" x1="0.3" y1="0" x2="0.6" y2="1"><stop offset="0" stop-color="#b0d8b0" stop-opacity="0.25"/><stop offset="0.5" stop-color="#80c070" stop-opacity="0.8"/><stop offset="1" stop-color="#189018"/></linearGradient>
</defs>
<g id="toolbar">
<g shape-rendering="crispEdges">
<rect x="2" y="0" width="1" height="21" fill="#a0a0a0"/>
<rect x="3" y="0" width="1" height="21" fill="#f8f8f8"/>
<rect x="238" y="0" width="1" height="23" fill="#a0a0a0"/>
<rect x="239" y="0" width="1" height="23" fill="#fff"/>
<rect x="242" y="1" width="3" height="1" fill="#a0a0a0"/>
<rect x="242" y="3" width="3" height="1" fill="#a0a0a0"/>
<rect x="242" y="5" width="3" height="1" fill="#a0a0a0"/>
<rect x="242" y="7" width="3" height="1" fill="#a0a0a0"/>
<rect x="242" y="9" width="3" height="1" fill="#a0a0a0"/>
<rect x="242" y="11" width="3" height="1" fill="#a0a0a0"/>
<rect x="242" y="13" width="3" height="1" fill="#a0a0a0"/>
<rect x="242" y="15" width="3" height="1" fill="#a0a0a0"/>
<rect x="242" y="17" width="3" height="1" fill="#a0a0a0"/>
<rect x="242" y="19" width="3" height="1" fill="#a0a0a0"/>
<rect x="606" y="0" width="1" height="23" fill="#a0a0a0"/>
<rect x="607" y="0" width="1" height="23" fill="#fff"/>
<rect x="610" y="1" width="3" height="1" fill="#a0a0a0"/>
<rect x="610" y="3" width="3" height="1" fill="#a0a0a0"/>
<rect x="610" y="5" width="3" height="1" fill="#a0a0a0"/>
<rect x="610" y="7" width="3" height="1" fill="#a0a0a0"/>
<rect x="610" y="9" width="3" height="1" fill="#a0a0a0"/>
<rect x="610" y="11" width="3" height="1" fill="#a0a0a0"/>
<rect x="610" y="13" width="3" height="1" fill="#a0a0a0"/>
<rect x="610" y="15" width="3" height="1" fill="#a0a0a0"/>
<rect x="610" y="17" width="3" height="1" fill="#a0a0a0"/>
<rect x="610" y="19" width="3" height="1" fill="#a0a0a0"/>
<rect x="912" y="0" width="1" height="23" fill="#a0a0a0"/>
<rect x="913" y="0" width="1" height="23" fill="#fff"/>
<rect x="916" y="1" width="3" height="1" fill="#a0a0a0"/>
<rect x="916" y="3" width="3" height="1" fill="#a0a0a0"/>
<rect x="916" y="5" width="3" height="1" fill="#a0a0a0"/>
<rect x="916" y="7" width="3" height="1" fill="#a0a0a0"/>
<rect x="916" y="9" width="3" height="1" fill="#a0a0a0"/>
<rect x="916" y="11" width="3" height="1" fill="#a0a0a0"/>
<rect x="916" y="13" width="3" height="1" fill="#a0a0a0"/>
<rect x="916" y="15" width="3" height="1" fill="#a0a0a0"/>
<rect x="916" y="17" width="3" height="1" fill="#a0a0a0"/>
<rect x="916" y="19" width="3" height="1" fill="#a0a0a0"/>
<rect x="1173" y="0" width="1" height="23" fill="#a0a0a0"/>
<rect x="1174" y="0" width="1" height="23" fill="#fff"/>
<rect x="333" y="0" width="1" height="21" fill="#a0a0a0"/>
<rect x="334" y="0" width="1" height="21" fill="#f8f8f8"/>
<rect x="423" y="0" width="1" height="21" fill="#a0a0a0"/>
<rect x="424" y="0" width="1" height="21" fill="#f8f8f8"/>
<rect x="485" y="0" width="1" height="21" fill="#a0a0a0"/>
<rect x="486" y="0" width="1" height="21" fill="#f8f8f8"/>
<rect x="673" y="0" width="1" height="21" fill="#a0a0a0"/>
<rect x="674" y="0" width="1" height="21" fill="#f8f8f8"/>
<rect x="277" y="0" width="24" height="21" fill="url(#chk)"/>
<rect x="276" y="0" width="1" height="21" fill="#a0a0a0"/>
<rect x="301" y="0" width="1" height="22" fill="#fff"/>
<rect x="276" y="21" width="26" height="1" fill="#fff"/>
<rect x="429" y="0" width="24" height="21" fill="url(#chk)"/>
<rect x="428" y="0" width="1" height="21" fill="#a0a0a0"/>
<rect x="453" y="0" width="1" height="22" fill="#fff"/>
<rect x="428" y="21" width="26" height="1" fill="#fff"/>
<rect x="457" y="0" width="24" height="21" fill="url(#chk)"/>
<rect x="456" y="0" width="1" height="21" fill="#a0a0a0"/>
<rect x="481" y="0" width="1" height="22" fill="#fff"/>
<rect x="456" y="21" width="26" height="1" fill="#fff"/>
<rect x="617" y="0" width="24" height="21" fill="url(#chk)"/>
<rect x="616" y="0" width="1" height="21" fill="#a0a0a0"/>
<rect x="641" y="0" width="1" height="22" fill="#fff"/>
<rect x="616" y="21" width="26" height="1" fill="#fff"/>
<rect x="1063" y="0" width="24" height="21" fill="url(#chk)"/>
<rect x="1062" y="0" width="1" height="21" fill="#a0a0a0"/>
<rect x="1087" y="0" width="1" height="22" fill="#fff"/>
<rect x="1062" y="21" width="26" height="1" fill="#fff"/>
<rect x="256" y="5" width="1" height="14" fill="#555555"/>
<rect x="255" y="6" width="3" height="1" fill="#555555"/>
<rect x="254" y="16" width="14" height="1" fill="#555555"/>
<rect x="266" y="15" width="1" height="3" fill="#555555"/>
<rect x="284" y="5" width="1" height="14" fill="#555555"/>
<rect x="283" y="6" width="3" height="1" fill="#555555"/>
<rect x="282" y="16" width="14" height="1" fill="#555555"/>
<rect x="294" y="15" width="1" height="3" fill="#555555"/>
<rect x="312" y="5" width="1" height="14" fill="#555555"/>
<rect x="311" y="6" width="3" height="1" fill="#555555"/>
<rect x="310" y="16" width="14" height="1" fill="#555555"/>
<rect x="322" y="15" width="1" height="3" fill="#555555"/>
<rect x="436" y="5" width="1" height="14" fill="#555555"/>
<rect x="435" y="6" width="3" height="1" fill="#555555"/>
<rect x="434" y="16" width="14" height="1" fill="#555555"/>
<rect x="446" y="15" width="1" height="3" fill="#555555"/>
<rect x="464" y="5" width="1" height="14" fill="#555555"/>
<rect x="463" y="6" width="3" height="1" fill="#555555"/>
<rect x="462" y="16" width="14" height="1" fill="#555555"/>
<rect x="474" y="15" width="1" height="3" fill="#555555"/>
<rect x="262" y="6" width="1" height="9" fill="#008000"/>
<rect x="263" y="7" width="2" height="1" fill="#008000"/>
<rect x="260" y="13" width="2" height="1" fill="#008000"/>
<rect x="290" y="3" width="1" height="12" fill="#008000"/>
<rect x="288" y="5" width="5" height="8" fill="#008000"/>
<rect x="289" y="6" width="3" height="6" fill="url(#gcandle)"/>
<rect x="470" y="5" width="1" height="10" fill="#1870a0"/>
<rect x="517" y="10" width="5" height="1" fill="#000"/>
<rect x="518" y="11" width="3" height="1" fill="#000"/>
<rect x="519" y="12" width="1" height="1" fill="#000"/>
<rect x="556" y="10" width="5" height="1" fill="#000"/>
<rect x="557" y="11" width="3" height="1" fill="#000"/>
<rect x="558" y="12" width="1" height="1" fill="#000"/>
<rect x="595" y="10" width="5" height="1" fill="#000"/>
<rect x="596" y="11" width="3" height="1" fill="#000"/>
<rect x="597" y="12" width="1" height="1" fill="#000"/>
<rect x="901" y="10" width="5" height="1" fill="#000"/>
<rect x="902" y="11" width="3" height="1" fill="#000"/>
<rect x="903" y="12" width="1" height="1" fill="#000"/>
<rect x="656" y="4" width="1" height="6" fill="#4a4a4a"/>
<rect x="656" y="13" width="1" height="6" fill="#4a4a4a"/>
<rect x="649" y="11" width="6" height="1" fill="#4a4a4a"/>
<rect x="658" y="11" width="6" height="1" fill="#4a4a4a"/>
<rect x="656" y="11" width="1" height="1" fill="#8a8a78"/>
<rect x="690" y="5" width="1" height="13" fill="#4a4a4a"/>
<rect x="713" y="11" width="12" height="1" fill="#4a4a4a"/>
<rect x="796" y="4" width="1" height="1" fill="#505050"/>
<rect x="798" y="4" width="1" height="1" fill="#505050"/>
<rect x="800" y="4" width="1" height="1" fill="#505050"/>
<rect x="802" y="4" width="1" height="1" fill="#505050"/>
<rect x="804" y="4" width="1" height="1" fill="#505050"/>
<rect x="806" y="4" width="1" height="1" fill="#505050"/>
<rect x="808" y="4" width="1" height="1" fill="#505050"/>
<rect x="796" y="7" width="1" height="1" fill="#505050"/>
<rect x="798" y="7" width="1" height="1" fill="#505050"/>
<rect x="800" y="7" width="1" height="1" fill="#505050"/>
<rect x="802" y="7" width="1" height="1" fill="#505050"/>
<rect x="804" y="7" width="1" height="1" fill="#505050"/>
<rect x="806" y="7" width="1" height="1" fill="#505050"/>
<rect x="808" y="7" width="1" height="1" fill="#505050"/>
<rect x="796" y="11" width="1" height="1" fill="#505050"/>
<rect x="798" y="11" width="1" height="1" fill="#505050"/>
<rect x="800" y="11" width="1" height="1" fill="#505050"/>
<rect x="802" y="11" width="1" height="1" fill="#505050"/>
<rect x="804" y="11" width="1" height="1" fill="#505050"/>
<rect x="806" y="11" width="1" height="1" fill="#505050"/>
<rect x="808" y="11" width="1" height="1" fill="#505050"/>
<rect x="796" y="15" width="1" height="1" fill="#505050"/>
<rect x="798" y="15" width="1" height="1" fill="#505050"/>
<rect x="800" y="15" width="1" height="1" fill="#505050"/>
<rect x="802" y="15" width="1" height="1" fill="#505050"/>
<rect x="804" y="15" width="1" height="1" fill="#505050"/>
<rect x="853" y="5" width="1" height="1" fill="#505050"/>
<rect x="853" y="17" width="1" height="1" fill="#505050"/>
<rect x="855" y="5" width="1" height="1" fill="#505050"/>
<rect x="855" y="17" width="1" height="1" fill="#505050"/>
<rect x="857" y="5" width="1" height="1" fill="#505050"/>
<rect x="857" y="17" width="1" height="1" fill="#505050"/>
<rect x="859" y="5" width="1" height="1" fill="#505050"/>
<rect x="859" y="17" width="1" height="1" fill="#505050"/>
<rect x="861" y="5" width="1" height="1" fill="#505050"/>
<rect x="861" y="17" width="1" height="1" fill="#505050"/>
<rect x="863" y="5" width="1" height="1" fill="#505050"/>
<rect x="863" y="17" width="1" height="1" fill="#505050"/>
<rect x="853" y="7" width="1" height="1" fill="#505050"/>
<rect x="864" y="7" width="1" height="1" fill="#505050"/>
<rect x="853" y="9" width="1" height="1" fill="#505050"/>
<rect x="864" y="9" width="1" height="1" fill="#505050"/>
<rect x="853" y="11" width="1" height="1" fill="#505050"/>
<rect x="864" y="11" width="1" height="1" fill="#505050"/>
<rect x="853" y="13" width="1" height="1" fill="#505050"/>
<rect x="864" y="13" width="1" height="1" fill="#505050"/>
<rect x="853" y="15" width="1" height="1" fill="#505050"/>
<rect x="864" y="15" width="1" height="1" fill="#505050"/>
<rect x="864" y="5" width="1" height="1" fill="#505050"/>
<rect x="852" y="4" width="2" height="1" fill="#505050"/>
<rect x="855" y="8" width="8" height="1" fill="#505050"/>
<rect x="858" y="8" width="2" height="8" fill="#505050"/>
<rect x="398" y="3" width="8" height="8" fill="url(#ggrn)"/>
<rect x="399" y="6" width="6" height="4" fill="#fff"/>
<rect x="399" y="4" width="1" height="1" fill="#fff"/>
<rect x="400" y="7" width="4" height="1" fill="#a8d890"/>
<rect x="400" y="9" width="4" height="1" fill="#a8d890"/>
<rect x="406" y="3" width="8" height="8" fill="url(#gblu)"/>
<rect x="407" y="6" width="6" height="4" fill="#fff"/>
<rect x="407" y="4" width="1" height="1" fill="#fff"/>
<rect x="408" y="7" width="4" height="1" fill="#90a8e8"/>
<rect x="408" y="9" width="4" height="1" fill="#90a8e8"/>
<rect x="398" y="11" width="8" height="8" fill="url(#gblu)"/>
<rect x="399" y="14" width="6" height="4" fill="#fff"/>
<rect x="399" y="12" width="1" height="1" fill="#fff"/>
<rect x="400" y="15" width="4" height="1" fill="#90a8e8"/>
<rect x="400" y="17" width="4" height="1" fill="#90a8e8"/>
<rect x="406" y="11" width="8" height="8" fill="url(#ggrn)"/>
<rect x="407" y="14" width="6" height="4" fill="#fff"/>
<rect x="407" y="12" width="1" height="1" fill="#fff"/>
<rect x="408" y="15" width="4" height="1" fill="#a8d890"/>
<rect x="408" y="17" width="4" height="1" fill="#a8d890"/>
<rect x="572" y="4" width="16" height="14" fill="#2f6fbe"/>
<rect x="573" y="5" width="14" height="2" fill="url(#gtpl)"/>
<rect x="573" y="7" width="14" height="5" fill="#fff"/>
<rect x="573" y="13" width="14" height="4" fill="#fff"/>
</g>
<path d="M12.5,4.5 q0,-1 1,-1 h6 l4,4 v8 q0,1 -1,1 h-9 q-1,0 -1,-1 z" fill="#fff" stroke="#787878" stroke-width="1" stroke-linejoin="round"/>
<path d="M19.5,3.5 v4 h4" fill="#f4f4f4" stroke="#787878" stroke-width="1" stroke-linejoin="round"/>
<g shape-rendering="crispEdges"><rect x="14" y="5" width="3" height="2" fill="#909090"/><rect x="14" y="9" width="7" height="1" fill="#909090"/><rect x="14" y="11" width="5" height="1" fill="#909090"/><rect x="14" y="13" width="3" height="1" fill="#909090"/></g>
<path d="M20.5,9.5 h3 v4 h4 v3 h-4 v4 h-3 v-4 h-4 v-3 h4 z" fill="url(#gplus)" stroke="#008000" stroke-width="1" stroke-linejoin="miter"/>
<path d="M495.5,4.5 q0,-1 1,-1 h6 l4,4 v8 q0,1 -1,1 h-9 q-1,0 -1,-1 z" fill="#fff" stroke="#787878" stroke-width="1" stroke-linejoin="round"/>
<path d="M502.5,3.5 v4 h4" fill="#f4f4f4" stroke="#787878" stroke-width="1" stroke-linejoin="round"/>
<path d="M500.5,6.5 q-1.8,-0.3 -2,2 v5.5 M497,9.5 h3" fill="none" stroke="#5a5040" stroke-width="1"/>
<path d="M503.5,9.5 h3 v4 h4 v3 h-4 v4 h-3 v-4 h-4 v-3 h4 z" fill="url(#gplus)" stroke="#008000" stroke-width="1" stroke-linejoin="miter"/>
<path d="M84.4,4.3 L94.3,10.5 L94.8,12.8 L87.3,18.7 L79.3,13.7 L79.3,12 L83.2,9.2 Z" fill="url(#gbook)" stroke="#a0620c" stroke-width="1" stroke-linejoin="round"/>
<path d="M79.6,12.3 L87.3,17.2 L94.3,11.300 L94.300,12.600 L87.300,18.300 L79.600,13.400 Z" fill="#c88a18" opacity="0.85"/>
<path d="M88.5,17 L94.2,12.300 M89.500,17.300 L94.400,13.200" fill="none" stroke="#7a4a08" stroke-width="0.500"/>
<path d="M80.300,12.200 L87.200,16.400" fill="none" stroke="#fbeaa0" stroke-width="0.900" opacity="0.9"/>
<path d="M109.3,4.600 l2.600,-1.400 h6.200 l1.700,1.500 v8.300 h-10.500 z" fill="url(#gbox)" stroke="#1a8ae8" stroke-width="0.600"/>
<path d="M109.600,4.700 l3.200,1.900 v6.400" fill="none" stroke="#d4f0ff" stroke-width="0.900"/>
<path d="M113,6.500 l6.500,-1.400" fill="none" stroke="#8cd4ff" stroke-width="0.700"/>
<path d="M114.300,8.600 l4,-0.800" stroke="#f0faff" stroke-width="1.100"/>
<path d="M110,18.400 c-3.400,0 -3.400,-4.600 -0.300,-4.700 c0,-2 2.600,-2.600 3.600,-1.400 c1.100,-2.300 4.900,-1.900 5.300,0.700 c1.600,-1.500 4.500,-0.300 4.300,2.300 c0,1.900 -1.300,3.100 -2.900,3.100 z" fill="url(#gcloud)" stroke="#3a5490" stroke-width="1.100" stroke-linejoin="round"/>
<circle cx="142.8" cy="10.9" r="7.3" fill="none" stroke="#3a68d0" stroke-width="1.3" opacity="0.7"/>
<circle cx="142.8" cy="10.9" r="4.5" fill="none" stroke="#4a78d8" stroke-width="1.3" opacity="0.6"/>
<path d="M143,10.9 L143,18.9 A8,8 0 0 0 147.500,4.400 Z" fill="url(#gsig2)" opacity="0.9"/>
<circle cx="142.6" cy="10.7" r="1.9" fill="#2050c8"/>
<path d="M143.5,11 V18.6" stroke="#18a018" stroke-width="1.2"/>
<path d="M162.6,10 L177.6,9.6 L174,15 L170,18.6 Z" fill="url(#gface)" stroke="#c8980c" stroke-width="0.8" stroke-linejoin="round"/>
<path d="M162.4,8.8 c-0.300,-1.700 1.800,-2.700 3.600,-2.300 c0.400,-4 7,-4.400 7.600,-0.700 c2,-1 4.600,-0.400 4.400,1.200 c-0.300,2.300 -4.800,3.600 -8.600,3.600 c-3.600,0 -6.700,-0.300 -7,-1.800 z" fill="url(#ghat)" stroke="#2484b8" stroke-width="0.9" stroke-linejoin="round"/>
<path d="M166.2,7 c1.500,1.300 5.500,1.200 7.300,-0.800" fill="none" stroke="#2484b8" stroke-width="0.600" opacity="0.7"/>
<circle cx="174.4" cy="14.6" r="4.2" fill="url(#gstop)"/>
<rect x="172.9" y="13.1" width="3" height="3.2" fill="#fff"/>
<path d="M311,13.6 C314,12 315,8.3 317.2,8.3 C319.2,8.3 320,11 322.6,12.2" fill="none" stroke="#0a8a0a" stroke-width="1.2"/>
<path d="M351.6,13 l1.8,-1.8 l4.6,4.6 l-1.800,1.800 z" fill="url(#ghandle)" stroke="#a87410" stroke-width="0.8"/>
<circle cx="348" cy="8.9" r="5.5" fill="#d4f2fb" stroke="#2a6ec6" stroke-width="1.1"/>
<rect x="344.4" y="7.9" width="7.2" height="2" fill="#3f88ae"/>
<rect x="347" y="5.3" width="2" height="7.2" fill="#3f88ae"/>
<path d="M379.6,13 l1.8,-1.8 l4.6,4.6 l-1.800,1.800 z" fill="url(#ghandle)" stroke="#a87410" stroke-width="0.8"/>
<circle cx="376" cy="8.9" r="5.5" fill="#d4f2fb" stroke="#2a6ec6" stroke-width="1.1"/>
<rect x="372.4" y="7.9" width="7.2" height="2" fill="#3f88ae"/>
<path d="M441.5,7.5 L445,10.5 L441.5,13.5 Z" fill="#88ff90" stroke="#008000" stroke-width="1" stroke-linejoin="round"/>
<path d="M471.5,10.5 L474,8.300 L473.600,10 L476,10.5 L473.600,11 L474,12.700 Z" fill="#ff6000" stroke="#a02800" stroke-width="0.7" stroke-linejoin="round"/>
<circle cx="541" cy="10.8" r="6.800" fill="#ececec" stroke="url(#gclock)" stroke-width="2.400"/>
<path d="M540.5,7 V11 H543.500" fill="none" stroke="#202020" stroke-width="1.1"/>
<circle cx="541" cy="10.8" r="4.6" fill="none" stroke="#a0a0a0" stroke-width="0.8" stroke-dasharray="0.6 1.8"/>
<path d="M574.5,10.5 L576.5,10.500 L578.500,9.500 L580,8.500 L581.500,9.500 L583.500,9.500 L585.500,8.500" fill="none" stroke="#a02000" stroke-width="1"/>
<path d="M575.5,15.5 L577.500,14.500 L579.500,15.500 L581,15.300 L582.500,13.500 L583.500,13.500 L585.500,15.600" fill="none" stroke="#109028" stroke-width="1"/>
<path d="M624.1,3.8 V15.2 L626.800,12.600 L629.300,18 L631.300,17.100 L628.800,11.800 L632.300,11.600 Z" fill="#484848"/>
<path d="M740.7,17.8 L753.2,5.7" stroke="#505050" stroke-width="1.1"/>
<g fill="none" stroke="#555555" stroke-width="0.900"><path d="M766.700,12.500 L774.900,4.800"/><path d="M772,17.900 L781.200,9.400"/></g>
<path d="M768.900,17.500 L770.300,10.600 L772.600,14.200 L774.200,7.600 L776.300,11.200 L778.500,3.400 L780.200,9.200" fill="none" stroke="#404040" stroke-width="1.250" stroke-linejoin="round"/>
<g fill="#505050"><path d="M883.5,4.800 L887.200,8.500 H885 V9.600 H882 V8.500 H879.800 Z"/><path d="M890.500,18 L886.800,14.300 H889 V13.200 H892 V14.300 H894.200 Z"/></g>
<path d="M882.300,12.300 L884.600,14.600 L889,9.400" fill="none" stroke="#505050" stroke-width="1.2"/>
<path d="M1641.200,11.300 L1636.300,15.800" stroke="#2a5fd0" stroke-width="2.200" stroke-linecap="round"/>
<circle cx="1643.8" cy="8.5" r="3.700" fill="#f4f6ff" stroke="#2a62d8" stroke-width="1.300"/>
<path d="M1660.500,13.500 c0,-3.600 3.600,-5.300 7.500,-5.300 c4.500,0 7,2.300 7,5 c0,2.700 -3,4.700 -7,4.700 c-0.800,0 -1.700,-0.100 -2.500,-0.300 l-2.200,2 l0.300,-2.700 c-1.800,-0.700 -3.100,-1.900 -3.100,-3.400 z" fill="#e4e4ec" stroke="#b4b4b8" stroke-width="0.8"/>
<circle cx="1674.6" cy="8.500" r="8.300" fill="url(#gbadge)"/>
<text x="1669.6" y="13" font-size="13" fill="#fff">1</text>
<text x="30.6" y="13.8" font-size="12.5" fill="#000" stroke="#000" stroke-width="0.2">新订单</text>
<text x="183.2" y="13.8" font-size="12.5" fill="#000" stroke="#000" stroke-width="0.2" textLength="47.5" lengthAdjust="spacingAndGlyphs">自动交易</text>
<text x="826.500" y="16" font-size="12.500" fill="#4c4c4c" stroke="#4c4c4c" stroke-width="0.350">A</text>
<text x="777.6" y="20" font-size="7.2" font-weight="bold" fill="#404040">E</text>
<text x="805.6" y="20" font-size="7.2" font-weight="bold" fill="#404040">F</text>
</g>
<text transform="translate(927.11 15) scale(0.9208 1)" font-size="10.4" fill="#484848" stroke="#484848" stroke-width="0.25">M1</text>
<text transform="translate(955.11 15) scale(0.9208 1)" font-size="10.4" fill="#484848" stroke="#484848" stroke-width="0.25">M5</text>
<text transform="translate(980.81 15) scale(0.9211 1)" font-size="10.4" fill="#484848" stroke="#484848" stroke-width="0.25">M15</text>
<text transform="translate(1008.79 15) scale(0.9421 1)" font-size="10.4" fill="#484848" stroke="#484848" stroke-width="0.25">M30</text>
<text transform="translate(1039.99 15) scale(0.9500 1)" font-size="10.4" fill="#484848" stroke="#484848" stroke-width="0.25">H1</text>
<text transform="translate(1066.96 15) scale(0.9878 1)" font-size="10.4" fill="#484848" stroke="#484848" stroke-width="0.25">H4</text>
<text transform="translate(1095.87 15) scale(0.9750 1)" font-size="10.4" fill="#484848" stroke="#484848" stroke-width="0.25">D1</text>
<text transform="translate(1123.90 15) scale(0.9400 1)" font-size="10.4" fill="#484848" stroke="#484848" stroke-width="0.25">W1</text>
<text transform="translate(1149.94 15) scale(1.0069 1)" font-size="10.4" fill="#484848" stroke="#484848" stroke-width="0.25">MN</text>
</svg>
</body></html>
